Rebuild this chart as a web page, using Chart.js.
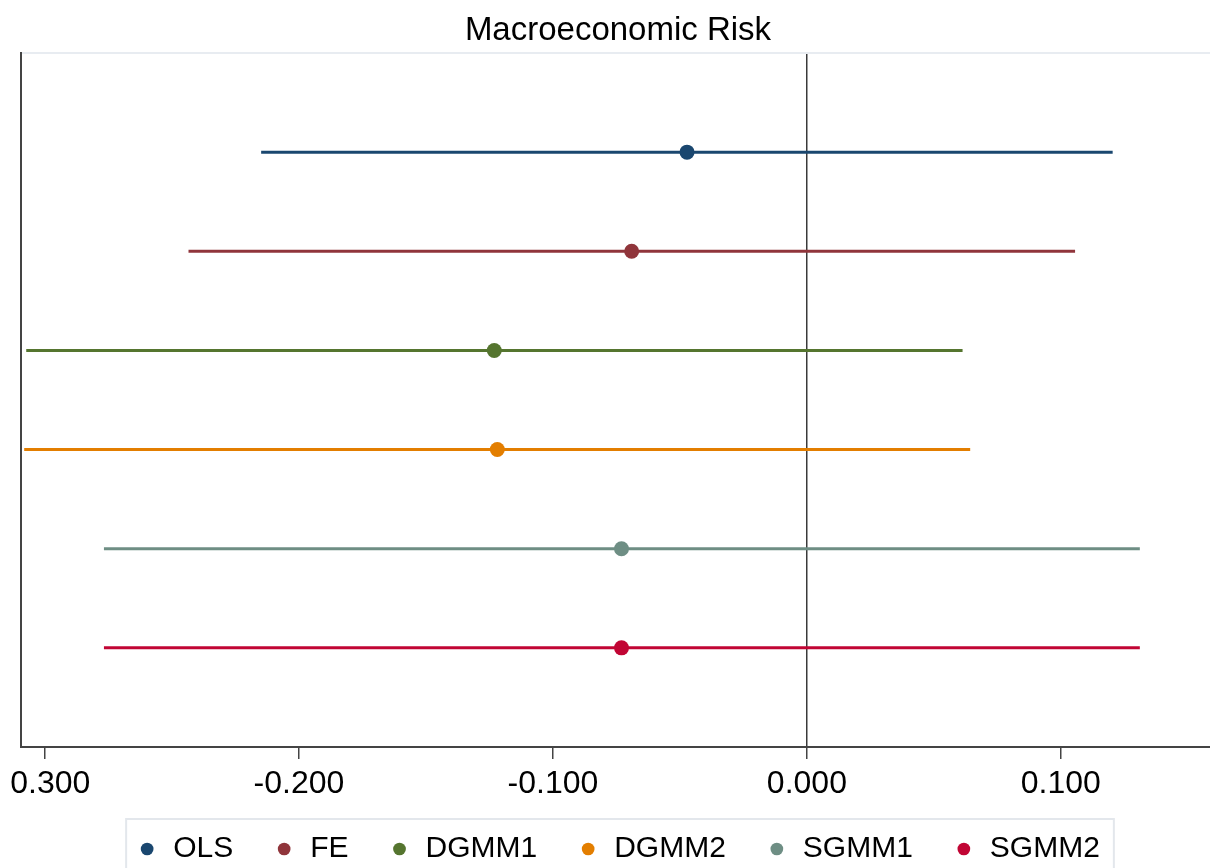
<!DOCTYPE html>
<html>
<head>
<meta charset="utf-8">
<title>Macroeconomic Risk</title>
<script src="https://cdn.jsdelivr.net/npm/chart.js@4.4.1/dist/chart.umd.min.js"></script>
<style>
  html, body { margin: 0; padding: 0; background: #fff; overflow: hidden; }
  #clip { position: absolute; left: 11px; top: 0; width: 1199px; height: 868px; overflow: hidden; }
  #wrap { position: absolute; left: -31px; top: 0; }
</style>
</head>
<body>
<div id="clip"><div id="wrap"><canvas id="chart" width="1276" height="874"></canvas></div></div>
<script>
const models = ['OLS', 'FE', 'DGMM1', 'DGMM2', 'SGMM1', 'SGMM2'];
const coef   = [-0.0472, -0.0690, -0.1231, -0.1219, -0.0730, -0.0730];
const ciLow  = [-0.2149, -0.2435, -0.3074, -0.3082, -0.2768, -0.2768];
const ciHigh = [0.1204, 0.1056, 0.0613, 0.0643, 0.1311, 0.1311];
const tickValues = [-0.3, -0.2, -0.1, 0, 0.1];
const colors = ['#1a476f', '#90353b', '#55752f', '#e37e00', '#6e8e84', '#c10534'];

const font = '"Liberation Sans", Arial, sans-serif';

// points first so they sit on top of the CI lines
const pointSets = models.map((m, i) => ({
  label: m,
  data: [{ x: coef[i], y: i + 1 }],
  backgroundColor: colors[i],
  borderWidth: 0,
  pointRadius: 7.5,
  pointHoverRadius: 7.5,
  showLine: false
}));

const ciSets = models.map((m, i) => ({
  label: m + ' CI',
  data: [{ x: ciLow[i], y: i + 1 }, { x: ciHigh[i], y: i + 1 }],
  borderColor: colors[i],
  borderWidth: 3,
  pointRadius: 0,
  showLine: true
}));

// light box round the legend, cut by the bottom edge like the original
const legendBox = {
  id: 'legendBox',
  afterDraw(chart) {
    const boxes = chart.legend.legendHitBoxes;
    if (!boxes || !boxes.length) return;
    const left = Math.min(...boxes.map(b => b.left)) - 10;
    const right = Math.max(...boxes.map(b => b.left + b.width)) + 14;
    const mid = boxes[0].top + boxes[0].height / 2;
    const ctx = chart.ctx;
    ctx.save();
    ctx.strokeStyle = '#e3e7ec';
    ctx.lineWidth = 2;
    ctx.strokeRect(left, mid - 30, right - left, chart.height - mid + 40);
    ctx.restore();
  }
};

new Chart(document.getElementById('chart'), {
  type: 'scatter',
  data: { datasets: [...pointSets, ...ciSets] },
  options: {
    responsive: false,
    animation: false,
    devicePixelRatio: 1,
    events: [],
    layout: { padding: 0 },
    scales: {
      x: {
        type: 'linear',
        min: -0.30946,
        max: 0.17389,
        afterBuildTicks: s => { s.ticks = tickValues.map(v => ({ value: v })); },
        afterFit: s => { s.height = 47; },
        ticks: {
          callback: v => Number(v).toFixed(3),
          color: '#000',
          font: { family: font, size: 32 },
          padding: 6,
          maxRotation: 0,
          autoSkip: false
        },
        grid: {
          color: c => (c.tick && c.tick.value === 0) ? '#3a3a3a' : 'rgba(0,0,0,0)',
          lineWidth: 1.5,
          tickColor: '#444',
          tickWidth: 1.5,
          tickLength: 12
        },
        border: { display: true, color: '#444', width: 2 }
      },
      y: {
        type: 'linear',
        min: 0,
        max: 7,
        reverse: true,
        afterBuildTicks: s => { s.ticks = [{ value: 0 }]; },
        afterFit: s => { s.width = 41; },
        ticks: { display: false },
        grid: { color: '#e8ecf1', lineWidth: 2, drawTicks: false },
        border: { display: true, color: '#444', width: 2 }
      }
    },
    plugins: {
      title: {
        display: true,
        text: 'Macroeconomic Risk',
        color: '#000',
        font: { family: font, size: 33, weight: 'normal' },
        padding: { top: 11, bottom: 2.4 }
      },
      legend: {
        position: 'bottom',
        labels: {
          usePointStyle: true,
          boxWidth: 22,
          boxHeight: 9,
          padding: 40,
          color: '#000',
          font: { family: font, size: 30 },
          generateLabels: () => models.map((m, i) => ({
            text: m,
            fillStyle: colors[i],
            strokeStyle: colors[i],
            lineWidth: 0,
            pointStyle: 'circle',
            hidden: false,
            datasetIndex: i
          }))
        }
      },
      tooltip: { enabled: false }
    }
  },
  plugins: [legendBox]
});
</script>
</body>
</html>
